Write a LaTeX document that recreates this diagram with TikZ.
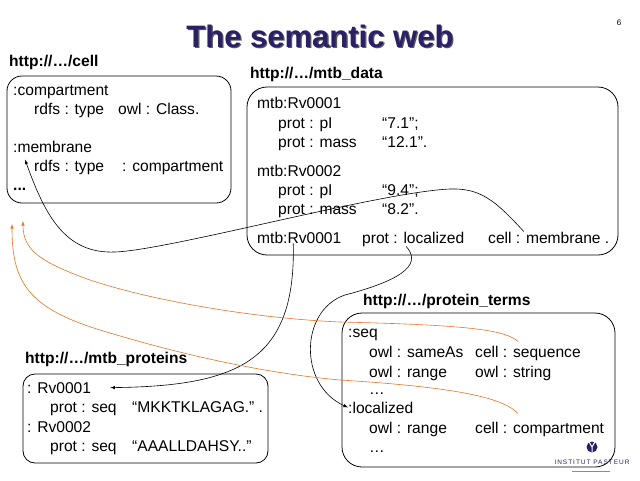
\documentclass[tikz,border=0pt]{standalone}
\usepackage{fontspec}
\setmainfont{Liberation Sans}
\usetikzlibrary{arrows}

\definecolor{titleblue}{RGB}{42,32,104}
\definecolor{linkorange}{RGB}{228,118,40}

\tikzset{
  txt/.style={anchor=base west,inner sep=0pt,font=\fontsize{15.6}{19}\selectfont},
  ns/.style={anchor=base west,inner sep=0pt,font=\fontsize{15.6}{19}\selectfont\bfseries},
  store/.style={draw,inner sep=0pt,line width=0.8pt},
  link/.style={-latex,line width=0.6pt},
  olink/.style={link,draw=linkorange},
}

\begin{document}
\begin{tikzpicture}[x=1pt,y=-1pt]
  \useasboundingbox[fill=white] (0,0) rectangle (640,480);

  % title
  \node[font=\fontsize{31}{31}\selectfont\bfseries,text=black!65,anchor=base] (titleshadow) at (321.3,48.3) {The semantic web};
  \node[font=\fontsize{31}{31}\selectfont\bfseries,text=titleblue,anchor=base] (title) at (320,47) {The semantic web};
  \node[font=\fontsize{8}{8}\selectfont,anchor=base] (pageno) at (619,25) {6};

  % http://.../cell
  \node[ns] (cellns) at (9,66) {http://…/cell};
  \node[store,rounded corners=15pt,minimum width=224pt,minimum height=127pt] (cellbox) at (119,139.5) {};
  \node[txt] (compcls) at (13,95) {:compartment};
  \node[txt] (comptype) at (34,114) {rdfs : type};
  \node[txt] (compval) at (118,114) {owl : Class.};
  \node[txt] (memb) at (13,152) {:membrane};
  \node[txt] (membtype) at (34,171) {rdfs : type};
  \node[txt] (membval) at (122,171) {: compartment};
  \node[txt,font=\fontsize{15.6}{19}\selectfont\bfseries] (cellmore) at (13,190) {...};

  % http://.../mtb_data
  \node[ns] (datans) at (250,78) {http://…/mtb\_data};
  \node[store,rounded corners=20pt,minimum width=371pt,minimum height=168pt] (databox) at (432.5,171) {};
  \node[txt] (rvA) at (257,108) {mtb:Rv0001};
  \node[txt] (rvApi) at (278,128) {prot : pI};
  \node[txt] (rvApival) at (382,128) {“7.1”;};
  \node[txt] (rvAmass) at (278,147) {prot : mass};
  \node[txt] (rvAmassval) at (382,147) {“12.1”.};
  \node[txt] (rvB) at (257,176) {mtb:Rv0002};
  \node[txt] (rvBpi) at (278,195) {prot : pI};
  \node[txt] (rvBpival) at (382,195) {“9.4”;};
  \node[txt] (rvBmass) at (278,214) {prot : mass};
  \node[txt] (rvBmassval) at (382,214) {“8.2”.};
  \node[txt] (rvlink) at (257,243) {mtb:Rv0001};
  \node[txt] (protloc) at (362,243) {prot : localized};
  \node[txt] (cellmem) at (488,243) {cell : membrane .};

  % http://.../protein_terms
  \node[ns] (termsns) at (363,305) {http://…/protein\_terms};
  \node[store,rounded corners=20pt,minimum width=273pt,minimum height=154pt] (termsbox) at (478.5,390) {};
  \node[txt] (termseq) at (348,337) {:seq};
  \node[txt] (seqsame) at (369,357) {owl : sameAs};
  \node[txt] (cellseq) at (475,357) {cell : sequence};
  \node[txt] (seqrange) at (369,377) {owl : range};
  \node[txt] (seqstr) at (475,377) {owl : string};
  \node[txt] (seqmore) at (369,394) {…};
  \node[txt] (termloc) at (348,413) {:localized};
  \node[txt] (locrange) at (369,433) {owl : range};
  \node[txt] (cellcomp) at (475,433) {cell : compartment};
  \node[txt] (locmore) at (369,452) {…};

  % http://.../mtb_proteins
  \node[ns] (protns) at (25,363) {http://…/mtb\_proteins};
  \node[store,rounded corners=12pt,minimum width=245pt,minimum height=89pt] (protbox) at (145.5,418.5) {};
  \node[txt] (protrvA) at (27,393) {: Rv0001};
  \node[txt] (seqA) at (50,412) {prot : seq};
  \node[txt] (seqAval) at (132,412) {“MKKTKLAGAG.” .};
  \node[txt] (protrvB) at (27,432) {: Rv0002};
  \node[txt] (seqB) at (50,451) {prot : seq};
  \node[txt] (seqBval) at (132,451) {“AAALLDAHSY..”};

  % logo
  \node[circle,fill=titleblue,minimum size=11pt,inner sep=0pt] (logo) at (592,447) {};
  \draw[white,line width=1pt] (logo.120) -- (logo.center) -- (logo.60) (logo.center) -- (logo.south);
  \node[font=\fontsize{6.5}{7}\selectfont\addfontfeature{LetterSpace=15},text=titleblue,anchor=base] (pasteur) at (592,464) {INSTITUT PASTEUR};
  \draw[black!45,line width=0.6pt] ([xshift=-20pt,yshift=-4pt]pasteur.south) -- ([xshift=18pt,yshift=-4pt]pasteur.south);

  % links
  \draw[link] ([xshift=-6pt]rvlink.south) .. controls (296,360) and (240,386) .. ([xshift=19pt]protrvA.east);
  \draw[link] ([xshift=-25pt]cellmem.north) .. controls (495,200) and (480,188) .. (450,189)
    .. controls (380,192) and (170,250) .. (115,252)
    .. controls (65,254) and (45,215) .. ([xshift=-9pt]membtype.north west);
  \draw[link] ([xshift=-7pt]protloc.south) .. controls (420,262) and (410,278) .. (345,295)
    .. controls (300,310) and (298,385) .. (termloc.west);

  \coordinate (seqtip) at (23,221);
  \coordinate (loctip) at (12,224);
  \draw[olink] ([shift={(43,-4)}]cellseq.north west) .. controls (505,330) and (470,325) .. (340,322)
    .. controls (250,318) and (150,300) .. (90,280)
    .. controls (40,262) and (23,250) .. (seqtip);
  \draw[olink] ([shift={(43,-8)}]cellcomp.north west) .. controls (505,400) and (470,388) .. (340,380)
    .. controls (250,372) and (160,348) .. (110,333)
    .. controls (30,310) and (12,285) .. (loctip);
\end{tikzpicture}
\end{document}
